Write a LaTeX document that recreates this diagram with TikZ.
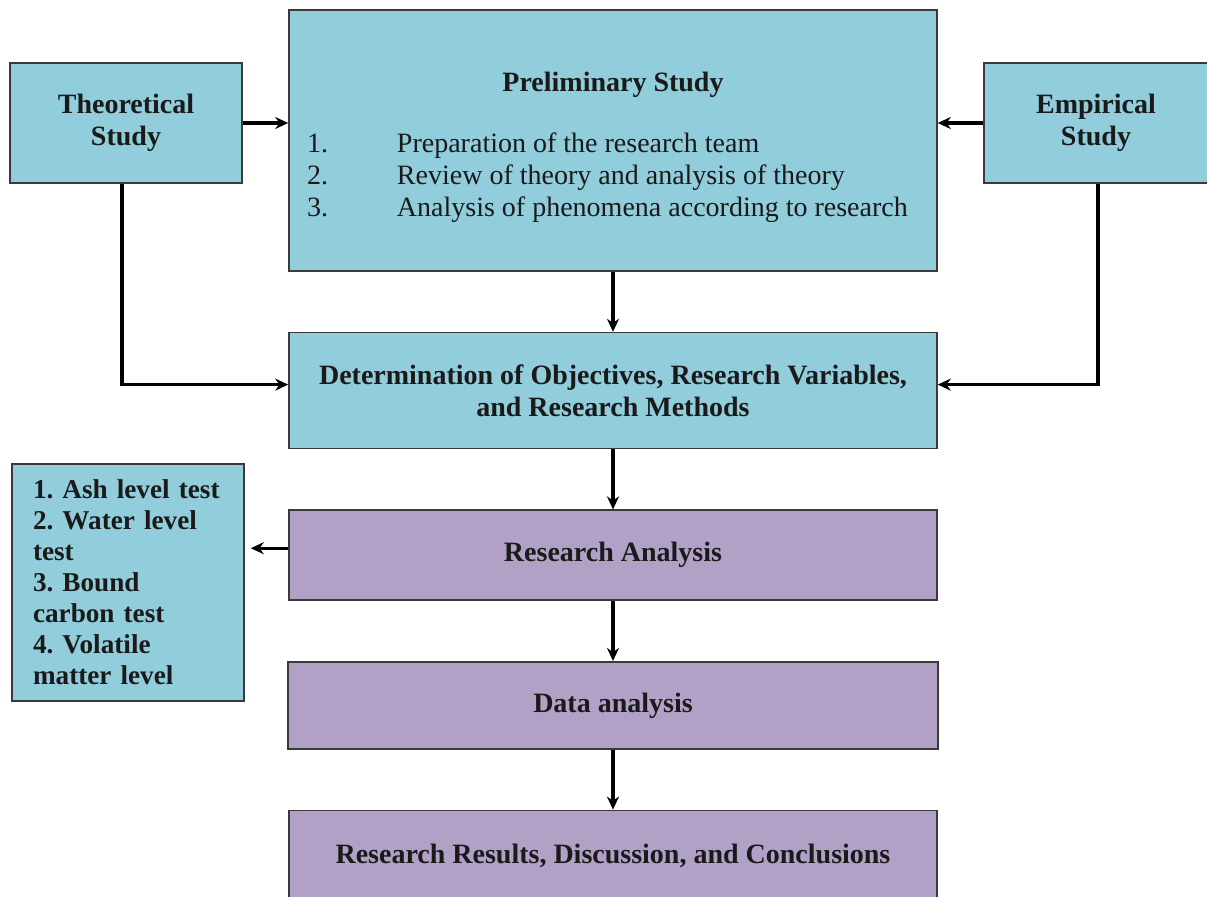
\documentclass[tikz,border=0pt]{standalone}
\usepackage{fontspec}
\setmainfont{Liberation Serif}
\usepackage{xcolor}
\definecolor{ink}{HTML}{1A1A1A}
\definecolor{frame}{HTML}{3A3A3A}
\definecolor{aquaBg}{HTML}{92CDDC}
\definecolor{lilacBg}{HTML}{B2A1C7}
\usepackage{tikz}
\usetikzlibrary{arrows.meta,positioning,calc}
\tikzset{>={Stealth[length=6.5pt,width=6pt]},
  box/.style={draw=frame,line width=0.8pt,fill=aquaBg,align=center,text=ink,
    inner sep=4pt,font=\fontsize{14}{16}\selectfont\bfseries\frenchspacing},
  lilacbox/.style={box,fill=lilacBg},
  flow/.style={->,line width=1.6pt,black}}

\begin{document}
\begin{tikzpicture}[node distance=30pt]
  \useasboundingbox (0,0) rectangle (603.5pt,-448pt);
  \node[box,minimum width=324pt,minimum height=130.5pt] (prelim) at (306.5pt,-70.25pt)
    {\rule{0pt}{18.5pt}Preliminary Study\\[15pt]
     \makebox[306pt][l]{\fontsize{14}{16}\selectfont\mdseries
       \begin{tabular}{@{}p{45pt}@{}l@{}}
         1. & Preparation of the research team\\
         2. & Review of theory and analysis of theory\\
         3. & Analysis of phenomena according to research
       \end{tabular}}};
  \node[box,minimum width=116pt,minimum height=60pt] (theo) at (63pt,-61.5pt) {Theoretical\\Study};
  \node[box,minimum width=112pt,minimum height=60pt] (emp) at (548pt,-61.5pt) {Empirical\\Study};
  \node[box,minimum width=324pt,minimum height=58pt,below=of prelim] (objectives)
    {Determination of Objectives, Research Variables,\\and Research Methods};
  \node[lilacbox,minimum width=324pt,minimum height=45pt,below=of objectives] (analysis) {Research Analysis};
  \node[lilacbox,minimum width=325pt,minimum height=43.5pt,below=of analysis] (data) {Data analysis};
  \node[lilacbox,minimum width=324pt,minimum height=46pt,below=of data] (results)
    {Research Results, Discussion, and Conclusions};
  \node[box,align=left,text width=95pt,inner xsep=10.5pt,minimum height=118.5pt,
    font=\fontsize{13.6}{15.5}\selectfont\bfseries\frenchspacing] (tests) at (64pt,-291.25pt)
    {1. Ash level test\\2. Water level\\test\\3. Bound\\carbon test\\4. Volatile\\matter level};
  % side inputs
  \draw[flow] (theo.east) -- (theo.east -| prelim.west);
  \draw[flow] (emp.west) -- (emp.west -| prelim.east);
  \draw[flow] ([xshift=-2pt]theo.south) |- ([yshift=3pt]objectives.west);
  \draw[flow] ([xshift=1pt]emp.south) |- ([yshift=3pt]objectives.east);
  % main column
  \draw[flow] (prelim) -- (objectives);
  \draw[flow] (objectives) -- (analysis);
  \draw[flow] (analysis) -- (data);
  \draw[flow] (data) -- (results);
  \draw[flow,shorten >=3pt] ([yshift=3.5pt]analysis.west) -- ([yshift=3.5pt]analysis.west -| tests.east);
\end{tikzpicture}
\end{document}
